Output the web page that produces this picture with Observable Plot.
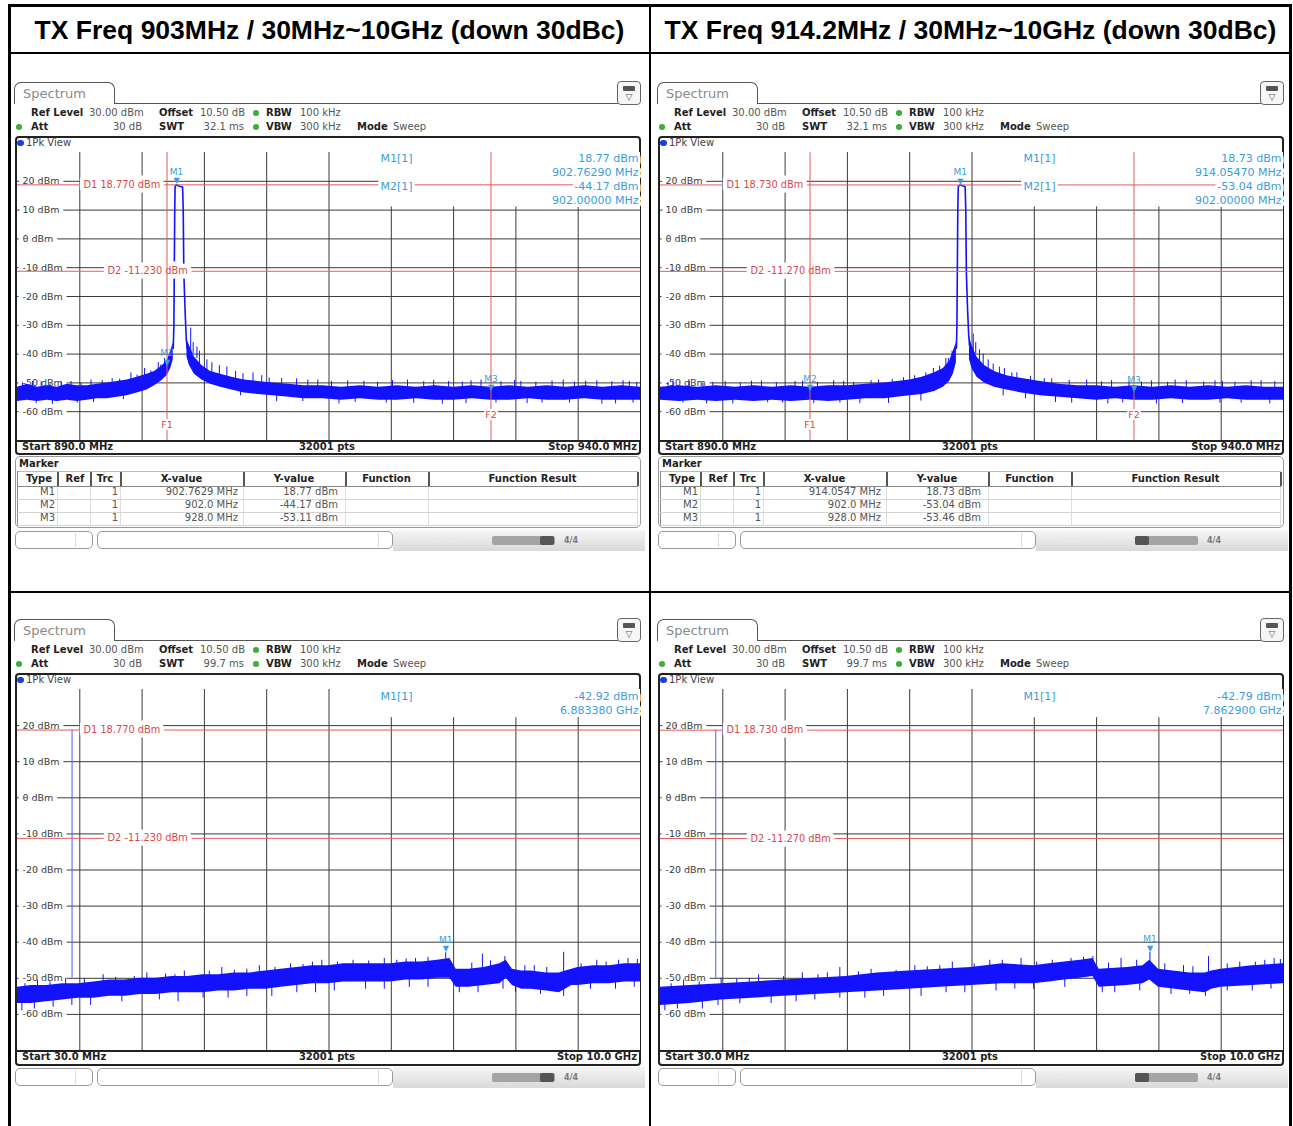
<!DOCTYPE html>
<html><head><meta charset="utf-8">
<script src="https://cdn.jsdelivr.net/npm/d3@7"></script>
<script src="https://cdn.jsdelivr.net/npm/@observablehq/plot@0.6"></script>
<style>
body{margin:0;background:#fff;}
#page{position:relative;width:1293px;height:1126px;overflow:hidden;background:#fff;font-family:"DejaVu Sans",sans-serif;}
</style></head>
<body><div id="page"></div>
<script>
// ---------------- data ----------------
const titles = ["TX Freq 903MHz / 30MHz~10GHz (down 30dBc)", "TX Freq 914.2MHz / 30MHz~10GHz (down 30dBc)"];
const yTicks = [20, 10, 0, -10, -20, -30, -40, -50, -60];
const topXTicks = [895, 900, 905, 910, 915, 920, 925, 930, 935];
const botXTicks = [1.027, 2.024, 3.021, 4.018, 5.015, 6.012, 7.009, 8.006, 9.003];
const refLevel = "30.00 dBm", offsetDb = "10.50 dB", rbw = "100 kHz", att = "30 dB", vbw = "300 kHz", mode = "Sweep";
const swtTop = "32.1 ms", swtBottom = "99.7 ms";
const tableHead = ["Type", "Ref", "Trc", "X-value", "Y-value", "Function", "Function Result"];

// top-left: 890-940 MHz, carrier 903 MHz
const tlFreq = [890, 890.8, 891.6, 892.4, 893.2, 894, 894.8, 895.6, 896.4, 897.2, 898, 898.8, 899.6, 900.4, 901, 901.5, 902, 902.3, 902.5,
  903.6, 903.8, 904.2, 904.8, 905.5, 906.3, 907.2, 908.2, 909.3, 910.5, 911.8, 913, 914.5, 916, 917.5, 919, 920.5, 922, 923.5, 925, 926.5, 928, 929.5, 931, 932.5, 934, 935.5, 937, 938.5, 940];
const tlLo = [-56.5, -56, -56.5, -56, -56.5, -56, -56.5, -56, -55.5, -55.5, -55, -54.5, -53.5, -52.5, -51, -49.5, -47.5, -45, -42,
  -41, -44, -47, -49, -50.5, -51.5, -52.5, -53.5, -54, -54.5, -55, -55.5, -55.5, -56, -55.5, -56, -56, -55.5, -56, -56, -55.5, -56, -56, -55.5, -56, -56, -55.5, -56, -56, -56];
const tlHi = [-51.5, -50.5, -51.5, -51, -51.5, -50.5, -51, -51, -50.5, -50, -49.5, -49, -48, -47, -46, -44.5, -42.5, -39, -36,
  -35, -37, -41, -44, -46, -47, -48, -49, -49.5, -50, -50.5, -51, -51, -51.5, -51, -51.5, -51, -51.5, -51, -51.5, -51, -51.5, -51, -51.5, -51, -51.5, -51, -51.5, -51, -51.5];
const tlPeak = [[902.5, -38], [902.55, -30], [902.58, -13], [902.62, 10], [902.65, 18.2], [902.76, 18.77], [903.0, 18.3], [903.25, 18.0], [903.3, 10], [903.35, -12], [903.45, -25], [903.55, -35], [903.62, -38]];
const tlSpikes = [[891.2, -53.5, -49.5], [893.5, -53.5, -49.8], [895.9, -53.5, -49], [897.6, -53, -48.5], [899.1, -51.5, -46.5], [900.2, -50, -45], [901.3, -48, -43], [901.8, -46, -41.5],
  [903.9, -40, -31], [904.1, -40, -36], [904.6, -44, -39], [905.2, -46, -42], [906.8, -49, -44.5], [908.9, -51.5, -46.5], [911.2, -53, -48.5], [914.1, -53.5, -49], [917.8, -53.5, -49.5],
  [921.3, -53.5, -49], [924.6, -53.5, -49.5], [927.2, -53.5, -49], [930.4, -53.5, -49.5], [933.8, -53.5, -49], [936.5, -53.5, -49.3], [939.1, -53.5, -49.5],
  [892.8, -54, -57.5], [898.5, -52, -55.8], [910.8, -52, -56.5], [919.6, -53.5, -57], [926, -53.5, -57.2], [932.1, -53.5, -57], [938, -53.5, -57.3]];
const tlUp = [[890.4, -50], [891.9, -49.6], [892.6, -50.3], [894.3, -49.5], [895.1, -50.2], [896.8, -49.2], [898.2, -48.7], [899.6, -47.3], [900.7, -45.8], [901.5, -43.8], [904.4, -37.5],
  [905.6, -43], [906.2, -44], [907.5, -46], [908.1, -46.8], [909.6, -47.5], [910.2, -48.3], [912.4, -48.6], [913.3, -49], [915.2, -49.5], [916.5, -49.3], [918.9, -49.8], [920.1, -49.2],
  [922.6, -49.6], [923.4, -49.1], [925.7, -49.7], [926.4, -49.2], [928.8, -49.6], [929.9, -49.1], [931.6, -49.8], [932.9, -49.3], [934.7, -49.7], [935.6, -49.4], [937.7, -49.6], [938.6, -49.2], [939.7, -49.8]];
const tlDown = [[891.5, -57.2], [894.8, -57], [896.1, -56.8], [907.9, -54.5], [912.9, -56.5], [915.8, -57.3], [917.1, -56.8], [921.8, -57.1], [924.1, -57.4], [928.4, -57], [930.9, -57.2], [934.3, -57], [936.9, -57.4], [939.4, -57]];
const tlMarkers = [{n: "M1", f: 902.7629, v: 18.77}, {n: "M2", f: 902.0, v: -44.17}, {n: "M3", f: 928.0, v: -53.11}];
const tlX = ["902.7629 MHz", "902.0 MHz", "928.0 MHz"], tlY = ["18.77 dBm", "-44.17 dBm", "-53.11 dBm"];
const tlInfo = [["M1[1]", "18.77 dBm"], ["", "902.76290 MHz"], ["M2[1]", "-44.17 dBm"], ["", "902.00000 MHz"]];
const tlD = [18.77, -11.23], tlDLabel = ["D1 18.770 dBm", "D2 -11.230 dBm"];

// top-right: carrier 914.2 MHz
const trFreq = [890, 891.5, 893, 894.5, 896, 897.5, 899, 900.5, 902, 903.5, 905, 906.5, 908, 909, 910, 911, 912, 912.7, 913.2, 913.5, 913.75,
  914.8, 915, 915.4, 916, 916.8, 917.8, 919, 920.5, 922, 923.5, 925, 926.5, 928, 929.5, 931, 932.5, 934, 935.5, 937, 938.5, 940];
const trLo = [-56, -56.5, -56, -56.5, -56, -56.5, -56, -56.5, -56, -56.5, -56, -55.5, -55.5, -55, -54.5, -54, -53, -51.5, -49.5, -47, -43,
  -42, -45, -48, -50, -51.5, -52.5, -53.5, -54.5, -55, -55.5, -56, -55.5, -56, -56, -55.5, -56, -56, -55.5, -56, -56, -56];
const trHi = [-51.5, -51, -51.5, -51, -51.5, -51, -51.5, -51, -51.5, -51, -51, -50.5, -50, -49.5, -49, -48, -46.5, -45, -42.5, -39, -36,
  -34, -37, -41, -44, -46, -47.5, -48.5, -49.5, -50.5, -51, -51, -51.5, -51, -51.5, -51, -51.5, -51, -51.5, -51, -51.5, -51.5];
const trPeak = [[913.75, -38], [913.79, -30], [913.82, -13], [913.86, 10], [913.9, 18.2], [914.05, 18.73], [914.3, 18.4], [914.45, 18.1], [914.5, 10], [914.55, -12], [914.65, -25], [914.73, -33], [914.8, -37]];
const trSpikes = [[891.0, -53.5, -49.3], [894.2, -53.5, -49.8], [897.3, -53.5, -49.4], [900.8, -53.5, -49.5], [903.9, -53.5, -49.2], [907.5, -53, -49], [910.4, -52, -47.5], [911.9, -50.5, -45],
  [912.9, -48, -41.5], [913.4, -45, -39], [915.1, -42, -33], [915.6, -45, -38.5], [916.3, -47.5, -42], [917.2, -49, -44.5], [918.6, -51, -46.5], [920.8, -52.5, -48.5], [924.2, -53.5, -49],
  [927.6, -53.5, -49.5], [931.3, -53.5, -49], [935.1, -53.5, -49.5], [938.2, -53.5, -49.2],
  [893.7, -53.5, -57.3], [899.8, -53.5, -57], [906, -53.5, -57.2], [917.5, -50, -54.5], [923, -53.5, -57], [929.8, -53.5, -57.3], [936.6, -53.5, -57]];
const trUp = [[890.6, -49.8], [892.3, -49.4], [893.4, -50.1], [895.2, -49.6], [896.4, -50], [898.1, -49.3], [899.3, -49.9], [901.4, -49.4], [902.6, -49.8], [904.7, -49.5], [905.5, -49.9],
  [906.9, -49.2], [908.6, -48.8], [909.5, -48.2], [911.3, -46.5], [912.4, -44.2], [913.1, -41.5], [915.3, -36], [915.9, -40], [916.7, -43.5], [917.6, -45], [918.2, -46.5], [919.7, -47.7],
  [921.4, -48.6], [922.8, -49.1], [925.4, -49.6], [926.2, -49.2], [928.6, -49.7], [929.4, -49.3], [930.7, -49.8], [932.2, -49.2], [933.6, -49.7], [934.5, -49.3], [936.1, -49.8], [937.4, -49.2], [939.3, -49.6]];
const trDown = [[891.8, -57], [895.8, -57.3], [898.6, -56.9], [902.3, -57.2], [904.4, -57], [908.3, -57.1], [910.9, -56.3], [919.3, -55.5], [921.7, -56.8], [925.9, -57.3], [927.1, -57], [931.9, -57.2], [934.9, -57], [938.9, -57.3]];
const trMarkers = [{n: "M1", f: 914.0547, v: 18.73}, {n: "M2", f: 902.0, v: -53.04}, {n: "M3", f: 928.0, v: -53.46}];
const trX = ["914.0547 MHz", "902.0 MHz", "928.0 MHz"], trY = ["18.73 dBm", "-53.04 dBm", "-53.46 dBm"];
const trInfo = [["M1[1]", "18.73 dBm"], ["", "914.05470 MHz"], ["M2[1]", "-53.04 dBm"], ["", "902.00000 MHz"]];
const trD = [18.73, -11.27], trDLabel = ["D1 18.730 dBm", "D2 -11.270 dBm"];
const fLines = [902, 928];

// bottom-left: 30 MHz - 10 GHz (GHz)
const blFreq = [0.03, 0.25, 0.5, 0.75, 1.0, 1.25, 1.5, 1.75, 2.0, 2.25, 2.5, 2.75, 3.0, 3.25, 3.5, 3.75, 4.0, 4.25, 4.5, 4.75, 5.0, 5.25, 5.5, 5.75, 6.0, 6.25, 6.5, 6.75, 6.95, 7.05, 7.25, 7.5, 7.75, 7.85, 7.95, 8.1, 8.25, 8.5, 8.7, 8.8, 8.9, 9.0, 9.25, 9.5, 9.75, 10.0];
const blLo = [-57, -57, -56.5, -56, -55.5, -55.5, -55, -55, -54.5, -54.5, -54, -54, -54, -53.5, -53.5, -53, -53, -52.5, -52, -51.5, -51.5, -51, -51, -51, -51, -50.5, -50.5, -50, -50, -52.5, -52.5, -52, -51.5, -50, -52, -53, -53, -53.5, -54, -53, -52, -52, -51.5, -51.5, -51, -51];
const blHi = [-52.5, -52, -52, -51.5, -51.5, -51, -50.5, -50.5, -50, -50, -49.5, -49.5, -49, -49, -48.5, -48.5, -48, -47.5, -47, -46.5, -46.5, -46, -46, -46, -46, -45.5, -45.5, -45, -44.5, -47.5, -47.5, -47, -46, -45, -47.5, -48, -48, -48.5, -48.5, -48, -47.5, -47, -46.5, -46.5, -46, -46];
const blSpikes = [[0.35, -54.5, -50.5], [0.8, -54, -50], [1.4, -53, -49], [2.1, -52.5, -48.5], [2.7, -52, -48], [3.3, -51, -47], [3.9, -51, -46.5], [4.4, -50, -46], [4.9, -49, -45], [5.4, -48.5, -45],
  [5.9, -48.5, -44.5], [6.4, -48, -44.5], [6.883, -47.5, -42.9], [7.47, -49.5, -43.3], [7.83, -48, -44], [8.3, -50.5, -46.5], [8.77, -51, -42.8], [9.3, -49, -45], [9.8, -48.5, -44.5],
  [0.1, -54.5, -59], [0.6, -54.5, -58], [1.7, -53, -56.5], [3.0, -51.5, -55.5], [3.7, -51, -55], [4.5, -49.5, -54], [5.6, -48.5, -53], [7.1, -50, -54], [8.0, -50.5, -54], [8.77, -51, -55], [9.6, -49, -53]];
const blUp = [[0.15, -51.5], [0.55, -51], [1.1, -50.2], [1.6, -49.8], [1.9, -49.5], [2.4, -48.8], [2.55, -49], [3.1, -48], [3.5, -47.8], [3.7, -47.5], [4.15, -47], [4.6, -46.2], [4.75, -45.5],
  [5.15, -45.5], [5.65, -45.2], [6.1, -45], [6.25, -44.6], [6.6, -44.2], [7.3, -45.8], [7.6, -45.2], [8.15, -46.5], [8.5, -47], [9.05, -46], [9.45, -45.5], [9.65, -45], [9.95, -44.8]];
const blDown = [[0.3, -58.5], [0.9, -57.5], [1.2, -57.5], [2.3, -56], [2.6, -56.5], [3.4, -55.5], [4.1, -55], [4.8, -54], [5.1, -53.5], [5.9, -53], [6.3, -52.5], [6.6, -52.5], [7.4, -54], [7.8, -53], [8.4, -54.5], [9.2, -53], [9.9, -52.5]];
const blCarrier = [0.903, 18.77];
const blMarkers = [{n: "M1", f: 6.88338, v: -42.92}];
const blInfo = [["M1[1]", "-42.92 dBm"], ["", "6.883380 GHz"]];

// bottom-right
const brFreq = [0.03, 0.5, 1.0, 1.5, 2.0, 2.5, 3.0, 3.5, 4.0, 4.5, 5.0, 5.5, 6.0, 6.25, 6.5, 6.75, 6.95, 7.05, 7.5, 7.75, 7.86, 8.0, 8.5, 8.75, 8.85, 9.0, 9.5, 10.0];
const brLo = [-57.5, -57, -56, -55.5, -55, -54.5, -54, -53.5, -53, -52.5, -52, -51.5, -51.5, -51, -50.5, -50, -49.5, -52.5, -52, -51.5, -50.5, -52.5, -53.5, -54, -53, -52.5, -52, -51.5];
const brHi = [-52.5, -52, -51.5, -51, -50.5, -50, -49.5, -48.5, -48, -47.5, -47, -46, -46.5, -46, -45.5, -45, -44.5, -47.5, -47, -46.5, -45, -47.5, -48.5, -48.5, -48, -47.5, -46.5, -46];
const brSpikes = [[0.4, -54.5, -50.5], [1.0, -54, -50], [1.6, -53, -49], [2.3, -52.5, -48.5], [2.9, -52, -47], [3.4, -51, -47.5], [4.1, -50.5, -46.5], [4.7, -50, -45.5], [5.3, -49, -45], [5.8, -49, -44.5],
  [6.3, -48.5, -45], [6.95, -47, -44], [7.4, -49.5, -44.5], [7.863, -48, -42.8], [8.4, -51, -46.5], [8.8, -51, -44], [9.3, -49.5, -45.5], [9.85, -49, -44.5],
  [0.1, -55, -59], [0.7, -54.5, -58.5], [1.8, -53, -57], [2.9, -52, -55.5], [3.6, -51, -55], [4.6, -50, -54], [6.0, -49, -53], [7.1, -50, -54], [8.2, -51, -54.5], [8.75, -51, -55], [9.5, -49.5, -53.5]];
const brUp = [[0.2, -51.5], [0.65, -51], [1.25, -50.2], [1.45, -50], [2.0, -49.5], [2.55, -49], [2.7, -48.5], [3.2, -48.2], [3.8, -47.8], [4.3, -46.8], [4.5, -46.5], [5.05, -46], [5.5, -45],
  [6.05, -45.5], [6.6, -44.5], [6.8, -44.2], [7.2, -45.8], [7.65, -45], [8.1, -46], [8.55, -46.8], [9.1, -46], [9.55, -45.5], [9.7, -45], [9.95, -44.8]];
const brDown = [[0.3, -58.5], [0.95, -57.5], [1.3, -57], [2.2, -56.5], [2.5, -56], [3.3, -55.5], [4.2, -55], [4.9, -54], [5.4, -53.5], [5.7, -53], [6.5, -52.5], [7.3, -54], [7.7, -53.5], [8.5, -54.5], [9.1, -53.5], [9.8, -53]];
const brCarrier = [0.9142, 18.73];
const brMarkers = [{n: "M1", f: 7.8629, v: -42.79}];
const brInfo = [["M1[1]", "-42.79 dBm"], ["", "7.862900 GHz"]];

// ---------------- drawing ----------------
const TRACE = "#1212ff", MCOL = "#3a9edb", RED = "#e35b5b", REDT = "#d84848", GRID = "#3a3a3a";
const page = document.getElementById("page");

function rect(p, x, y, w, h, css = {}) {
  const d = document.createElement("div");
  Object.assign(d.style, {position: "absolute", left: x + "px", top: y + "px", width: w + "px", height: h + "px", boxSizing: "border-box"}, css);
  p.appendChild(d);
  return d;
}
function txt(p, x, y, s, o = {}) {
  const d = document.createElement("div");
  d.textContent = s;
  const tx = o.anchor === "end" ? "-100%" : o.anchor === "middle" ? "-50%" : "0";
  Object.assign(d.style, {position: "absolute", left: x + "px", top: y + "px", transform: `translate(${tx},-50%)`,
    whiteSpace: "nowrap", fontSize: (o.size || 10) + "px", lineHeight: "1.2", fontWeight: o.bold ? "bold" : "normal",
    color: o.color || (o.bold ? "#222" : "#555"), fontFamily: o.font || "'DejaVu Sans', sans-serif"});
  p.appendChild(d);
  return d;
}
function dot(p, x, y, r, col) {
  rect(p, x - r, y - r, 2 * r, 2 * r, {borderRadius: "50%", background: col});
}

function makePlot(c) {
  const [x0, x1] = c.xDomain;
  const noise = c.freq.map((f, i) => ({f, lo: c.lo[i], hi: c.hi[i]}));
  const halo = {stroke: "white", strokeWidth: 9, strokeLinejoin: "round"};
  const marks = [
    Plot.ruleX(c.xTicks, {x: d => d, y1: -70, y2: d => d > c.boxFrom ? c.boxTo : 30, stroke: GRID, strokeWidth: 1}),
    Plot.ruleY(yTicks, {y: d => d, x1: x0, x2: d => d > c.boxTo ? c.boxFrom : x1, stroke: GRID, strokeWidth: 1}),
    Plot.text(yTicks, {x: x0, y: d => d, text: d => `${d} dBm`, dx: 5, textAnchor: "start", fill: "#3c3c3c", fontSize: 9.5, ...halo}),
    Plot.areaY(noise, {x: "f", y1: "lo", y2: "hi", z: d => c.splitAt != null && d.f > c.splitAt, fill: TRACE}),
    Plot.ruleX(c.spikes, {x: d => d[0], y1: d => d[1], y2: d => d[2], stroke: TRACE, strokeWidth: 1}),
    Plot.ruleX(c.up, {x: d => d[0], y1: d => d[1] - 4, y2: d => d[1], stroke: TRACE, strokeWidth: 1}),
    Plot.ruleX(c.down, {x: d => d[0], y1: d => d[1] + 4, y2: d => d[1], stroke: TRACE, strokeWidth: 1})
  ];
  if (c.peak) marks.push(Plot.line(c.peak, {x: d => d[0], y: d => d[1], stroke: TRACE, strokeWidth: 1.6}));
  if (c.carrier) marks.push(Plot.ruleX([c.carrier], {x: d => d[0], y1: -50, y2: d => d[1], stroke: "#4a5cff", strokeWidth: 1}));
  marks.push(Plot.ruleY(c.dLevels, {y: d => d, stroke: RED, strokeWidth: 1}));
  marks.push(Plot.text([c.dLevels[0]], {x: x0, y: d => d, text: () => c.dLabels[0], dx: 66, textAnchor: "start", fill: REDT, fontSize: 9.8, ...halo}));
  marks.push(Plot.text([c.dLevels[1]], {x: x0, y: d => d, text: () => c.dLabels[1], dx: 90, textAnchor: "start", fill: REDT, fontSize: 9.8, ...halo}));
  if (c.fLines) {
    marks.push(Plot.ruleX(c.fLines, {x: d => d, stroke: RED, strokeWidth: 1}));
    marks.push(Plot.text([c.fLines[0]], {x: d => d, y: -64.5, text: () => "F1", fill: REDT, fontSize: 9.5, ...halo, strokeWidth: 4}));
    marks.push(Plot.text([c.fLines[1]], {x: d => d, y: -61, text: () => "F2", fill: REDT, fontSize: 9.5, ...halo, strokeWidth: 4}));
  }
  marks.push(Plot.text(c.markers, {x: "f", y: "v", text: () => "▼", fill: MCOL, fontSize: 8, dy: -4}));
  marks.push(Plot.text(c.markers, {x: "f", y: "v", text: "n", fill: MCOL, fontSize: 9, dy: -13}));
  c.info.forEach((r, i) => {
    marks.push(Plot.text([r[0]], {frameAnchor: "top-left", dx: 363, dy: c.infoTop + 14 * i, text: d => d, textAnchor: "start", lineAnchor: "middle", fill: MCOL, fontSize: 11, ...halo, strokeWidth: 6}));
    marks.push(Plot.text([r[1]], {frameAnchor: "top-right", dx: -2, dy: c.infoTop + 14 * i, text: d => d, textAnchor: "end", lineAnchor: "middle", fill: MCOL, fontSize: 11, ...halo, strokeWidth: 6}));
  });
  return Plot.plot({
    width: c.w, height: c.h, margin: 0,
    x: {domain: c.xDomain, axis: null}, y: {domain: [-70, 30], axis: null},
    style: {fontFamily: "DejaVu Sans", background: "white", overflow: "visible"},
    marks
  });
}

function panel(ox, oy, c) {
  const p = rect(page, ox, oy, 0, 0, {overflow: "visible"});
  // tab + icon
  rect(p, 14, 82, 101, 22, {border: "1.5px solid #555", borderBottom: "none", borderRadius: "7px 7px 0 0", background: "#fff"});
  txt(p, 23, 93.5, "Spectrum", {size: 13, color: "#8a8a8a"});
  rect(p, 114, 102.5, 504, 1.5, {background: "#555"});
  rect(p, 617, 81, 24, 24, {border: "1.5px solid #666", borderRadius: "4px", background: "#f6f6f6"});
  rect(p, 623, 86, 12, 5, {background: "#555", borderRadius: "1px"});
  txt(p, 629, 97, "▽", {size: 9, color: "#555", anchor: "middle"});
  // info rows
  txt(p, 31, 113, "Ref Level", {bold: true}); txt(p, 89, 113, refLevel);
  txt(p, 159, 113, "Offset", {bold: true}); txt(p, 200, 113, offsetDb);
  dot(p, 256, 113, 2.8, "#3fae3f");
  txt(p, 266, 113, "RBW", {bold: true}); txt(p, 300, 113, rbw);
  dot(p, 19, 127, 2.8, "#3fae3f");
  txt(p, 31, 127, "Att", {bold: true}); txt(p, 142, 127, att, {anchor: "end"});
  txt(p, 159, 127, "SWT", {bold: true}); txt(p, 244, 127, c.swt, {anchor: "end"});
  dot(p, 256, 127, 2.8, "#3fae3f");
  txt(p, 266, 127, "VBW", {bold: true}); txt(p, 300, 127, vbw);
  txt(p, 357, 127, "Mode", {bold: true}); txt(p, 393, 127, mode);
  // frame
  rect(p, 15, 136, 626, c.frameH, {border: "2px solid #222", borderRadius: "4px", background: "#fff"});
  dot(p, 20.5, 143, 3.3, "#1a3ee0");
  txt(p, 26, 143, "1Pk View", {size: 10, color: "#444"});
  const svg = makePlot(c);
  Object.assign(svg.style, {position: "absolute", left: "17px", top: "152px", maxWidth: "none", width: c.w + "px", height: c.h + "px"});
  p.appendChild(svg);
  const gb = 152 + c.h;
  rect(p, 15, gb, 626, 1.5, {background: "#222"});
  txt(p, 22, gb + 7, c.start, {bold: true});
  txt(p, 327, gb + 7, "32001 pts", {bold: true, anchor: "middle"});
  txt(p, 637, gb + 7, c.stop, {bold: true, anchor: "end"});
  // marker table
  if (c.tableX) {
    rect(p, 15, 456, 626, 72, {border: "1px solid #999", borderRadius: "5px", background: "#fff"});
    txt(p, 19, 463.5, "Marker", {bold: true});
    const seps = [57, 90, 120, 243, 345, 428, 637];
    const cent = [39, 75, 105, 181.5, 294, 386.5, 532.5];
    rect(p, 17, 471, 621, 1, {background: "#bbb"});
    rect(p, 17, 485.5, 621, 1.2, {background: "#888"});
    rect(p, 17, 471, 1.2, 54, {background: "#888"});
    seps.forEach(s => rect(p, s, 472, 1.5, 13.5, {background: "#555"}));
    seps.forEach(s => rect(p, s, 486.5, 1, 38, {background: "#ddd"}));
    tableHead.forEach((h, i) => txt(p, cent[i], 478.5, h, {bold: true, anchor: "middle"}));
    for (let i = 0; i < 3; i++) {
      const y = 492 + 13 * i;
      rect(p, 17, y + 6.5, 621, 1, {background: "#d4d4d4"});
      txt(p, 55, y, c.markers[i].n, {anchor: "end"});
      txt(p, 118, y, "1", {anchor: "end"});
      txt(p, 238, y, c.tableX[i], {anchor: "end"});
      txt(p, 338, y, c.tableY[i], {anchor: "end"});
    }
  }
  // status bar
  const sy = c.statusY;
  rect(p, 15, sy, 78, 18, {border: "1px solid #9a9a9a", borderRadius: "5px"});
  rect(p, 75, sy + 2, 1, 14, {background: "#ddd"});
  rect(p, 97, sy, 296, 18, {border: "1px solid #9a9a9a", borderRadius: "5px"});
  rect(p, 378, sy + 2, 1, 14, {background: "#ddd"});
  rect(p, 393, sy - 1, 252, 21, {background: "linear-gradient(#f6f6f6,#d9d9d9)"});
  txt(p, 412, sy + 9, "Measuring...", {size: 9, color: "#e9e9e9"});
  rect(p, 492, sy + 5, 63, 9, {background: "#a4a4a4", borderRadius: "2px"});
  rect(p, c.progX, sy + 5, 14, 9, {background: "#555", borderRadius: "2px"});
  txt(p, 571, sy + 9.5, "4/4", {size: 8, bold: true, color: "#7a7a7a", anchor: "middle"});
}

// table frame + headers
const B = "#000";
rect(page, 8, 4, 1284, 3, {background: B});
rect(page, 8, 4, 3, 1122, {background: B});
rect(page, 1289, 4, 3, 1122, {background: B});
rect(page, 8, 52, 1284, 2, {background: B});
rect(page, 649, 4, 2, 1122, {background: B});
rect(page, 8, 591, 1284, 2, {background: B});
txt(page, 329.5, 30.5, titles[0], {size: 26.5, bold: true, color: "#000", anchor: "middle", font: "'Liberation Sans', Arial, sans-serif"});
txt(page, 970.5, 30.5, titles[1], {size: 26.5, bold: true, color: "#000", anchor: "middle", font: "'Liberation Sans', Arial, sans-serif"});

const topBase = {w: 623, h: 288, frameH: 319, xTicks: topXTicks, xDomain: [890, 940], boxFrom: 919, boxTo: 11.1, infoTop: 6,
  swt: swtTop, start: "Start 890.0 MHz", stop: "Stop 940.0 MHz", statusY: 531, fLines};
const botBase = {w: 623, h: 361, frameH: 393, xTicks: botXTicks, xDomain: [0.03, 10], boxFrom: 5.8, boxTo: 22.2, infoTop: 7,
  swt: swtBottom, start: "Start 30.0 MHz", stop: "Stop 10.0 GHz", statusY: 531};

panel(0, 0, {...topBase, freq: tlFreq, lo: tlLo, hi: tlHi, splitAt: 903, peak: tlPeak, spikes: tlSpikes, up: tlUp, down: tlDown, markers: tlMarkers, info: tlInfo,
  dLevels: tlD, dLabels: tlDLabel, tableX: tlX, tableY: tlY, progX: 540});
panel(643, 0, {...topBase, freq: trFreq, lo: trLo, hi: trHi, splitAt: 914.2, peak: trPeak, spikes: trSpikes, up: trUp, down: trDown, markers: trMarkers, info: trInfo,
  dLevels: trD, dLabels: trDLabel, tableX: trX, tableY: trY, progX: 492});
panel(0, 537, {...botBase, freq: blFreq, lo: blLo, hi: blHi, carrier: blCarrier, spikes: blSpikes, up: blUp, down: blDown, markers: blMarkers, info: blInfo,
  dLevels: tlD, dLabels: tlDLabel, progX: 540});
panel(643, 537, {...botBase, freq: brFreq, lo: brLo, hi: brHi, carrier: brCarrier, spikes: brSpikes, up: brUp, down: brDown, markers: brMarkers, info: brInfo,
  dLevels: trD, dLabels: trDLabel, progX: 492});
</script>
</body></html>
